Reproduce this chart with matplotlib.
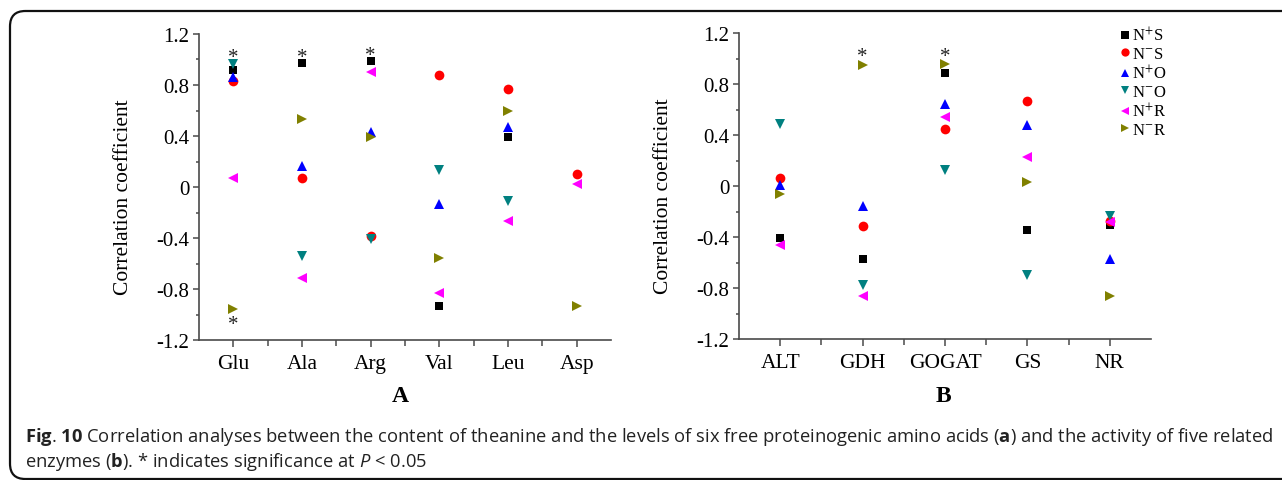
import matplotlib
matplotlib.use('Agg')
import matplotlib.pyplot as plt
import numpy as np
from matplotlib.patches import FancyBboxPatch
from matplotlib.font_manager import FontProperties
from matplotlib.ticker import MultipleLocator
from matplotlib import transforms

plt.rcParams['mathtext.fontset'] = 'custom'
plt.rcParams['mathtext.rm'] = 'Open Sans'
plt.rcParams['mathtext.bf'] = 'Open Sans:bold'
plt.rcParams['mathtext.it'] = 'Open Sans:italic'

# ---------------- data ----------------
amino_acids = ['Glu', 'Ala', 'Arg', 'Val', 'Leu', 'Asp']
enzymes = ['ALT', 'GDH', 'GOGAT', 'GS', 'NR']
series_labels = ['N$^{+}$S', 'N$^{-}$S', 'N$^{+}$O', 'N$^{-}$O', 'N$^{+}$R', 'N$^{-}$R']
nan = np.nan

A_NpS = [0.92, 0.975, 0.99, -0.935, 0.39, nan]
A_NmS = [0.835, 0.07, -0.385, 0.875, 0.765, 0.10]
A_NpO = [0.865, 0.165, 0.435, -0.13, 0.47, nan]
A_NmO = [0.965, -0.54, -0.405, 0.13, -0.11, nan]
A_NpR = [0.07, -0.715, 0.90, -0.83, -0.27, 0.025]
A_NmR = [-0.955, 0.535, 0.39, -0.555, 0.595, -0.935]

B_NpS = [-0.41, -0.57, 0.89, -0.345, -0.305]
B_NmS = [0.06, -0.315, 0.445, 0.67, -0.275]
B_NpO = [0.01, -0.16, 0.64, 0.48, -0.57]
B_NmO = [0.49, -0.78, 0.125, -0.70, -0.235]
B_NpR = [-0.46, -0.865, 0.545, 0.225, -0.28]
B_NmR = [-0.06, 0.95, 0.96, 0.035, -0.865]

# significance stars: category index and y position
A_star_idx = [0, 1, 2, 0]
A_star_y = [1.045, 1.05, 1.065, -1.05]
B_star_idx = [1, 2]
B_star_y = [1.05, 1.05]

ylabel = 'Correlation coefficient'
caption1 = (r'$\mathbf{Fig}$. $\mathbf{10}$ Correlation analyses between the content of theanine and the levels '
            r'of six free proteinogenic amino acids ($\mathbf{a}$) and the activity of five related')
caption2 = r'enzymes ($\mathbf{b}$). * indicates significance at $\mathit{P}$ < 0.05'

# ---------------- style ----------------
markers = ['s', 'o', '^', 'v', '<', '>']
colors = ['#000000', '#ff0000', '#0000ff', '#008080', '#ff00ff', '#808000']
msizes = [6.0, 7.0, 7.2, 7.2, 7.2, 7.2]
serif = ['Liberation Serif', 'DejaVu Serif']
spine_c = '#4a4a4a'

W, H = 1282, 481
fig = plt.figure(figsize=(W / 100, H / 100), dpi=100)

def px_axes(l, r, t, b):
    return fig.add_axes([l / W, 1 - b / H, (r - l) / W, (b - t) / H])

axA = px_axes(199, 611, 35, 341)
axB = px_axes(739, 1151, 34, 340)

A_data = [A_NpS, A_NmS, A_NpO, A_NmO, A_NpR, A_NmR]
B_data = [B_NpS, B_NmS, B_NpO, B_NmO, B_NpR, B_NmR]

handles = []
for ax, cats, data, sidx, sy in [(axA, amino_acids, A_data, A_star_idx, A_star_y),
                                  (axB, enzymes, B_data, B_star_idx, B_star_y)]:
    x = np.arange(1, len(cats) + 1)
    hs = []
    for vals, m, c, ms, lab in zip(data, markers, colors, msizes, series_labels):
        h, = ax.plot(x, vals, linestyle='none', marker=m, color=c, markersize=ms,
                     markeredgewidth=0, label=lab, clip_on=False)
        hs.append(h)
    handles = hs
    star_tr = transforms.offset_copy(ax.transData, fig=fig, x=0, y=-4, units='dots')
    for i, yv in zip(sidx, sy):
        ax.text(x[i], yv, '*', ha='center', va='center', fontsize=15, family=serif,
                color='#222222', transform=star_tr)
    ax.set_xlim(0.5, len(cats) + 0.5)
    ax.set_ylim(-1.2, 1.2)
    ax.set_xticks(x)
    ax.set_xticklabels(cats, fontsize=15.5, family=serif)
    ax.set_xticks(x[:-1] + 0.5, minor=True)
    ax.yaxis.set_minor_locator(MultipleLocator(0.2))
    ax.set_yticks(np.arange(-1.2, 1.21, 0.4))
    ax.set_yticklabels(['-1.2', '-0.8', '-0.4', '0', '0.4', '0.8', '1.2'], fontsize=15, family=serif)
    for s in ['top', 'right']:
        ax.spines[s].set_visible(False)
    for s in ['left', 'bottom']:
        ax.spines[s].set_color(spine_c)
        ax.spines[s].set_linewidth(1.2)
    ax.tick_params(axis='both', which='both', direction='out', color=spine_c, width=1.1)
    ax.tick_params(axis='x', which='major', length=5, pad=5)
    ax.tick_params(axis='x', which='minor', length=4)
    ax.tick_params(axis='y', which='major', length=4, pad=3)
    ax.tick_params(axis='y', which='minor', length=2.5)
    ax.set_ylabel(ylabel, fontsize=15.5, family=serif)
    ax.yaxis.set_label_coords(-0.16, 0.47)
    ax.patch.set_alpha(0)

fig.text(400 / W, 1 - 397 / H, 'A', fontsize=17, fontweight='bold', family=serif,
         ha='center', va='center')
fig.text(943 / W, 1 - 397 / H, 'B', fontsize=17, fontweight='bold', family=serif,
         ha='center', va='center')

leg = fig.legend(handles=handles, labels=series_labels, loc='upper left',
                 bbox_to_anchor=(1121 / W, 1 - 27 / H), frameon=False,
                 prop=FontProperties(family=serif, size=12, math_fontfamily='stix'),
                 handlelength=0.5, handletextpad=0.15, labelspacing=0.1, borderpad=0,
                 borderaxespad=0, numpoints=1, markerscale=0.85)

# caption
t1 = fig.text(25 / W, 1 - 437 / H, caption1, fontsize=11.5, family='Open Sans',
              ha='left', va='center', color='#222222')
renderer = fig.canvas.get_renderer()
bb = t1.get_window_extent(renderer)
fs = 11.5 * (1278 - 25) / bb.width
t1.set_fontsize(fs)
t2 = fig.text(25 / W, 1 - 462 / H, caption2, fontsize=fs, family='Open Sans',
              ha='left', va='center', color='#222222')

# rounded frame
frame = FancyBboxPatch((10 / W, 1 - 480 / H), (1400 - 10) / W, (480 - 12) / H,
                       boxstyle='round,pad=0,rounding_size=0.012', transform=fig.transFigure,
                       facecolor='none', edgecolor='#111111', linewidth=1.6,
                       mutation_aspect=W / H)
fig.patches.append(frame)

fig.savefig('out.png', dpi=100)
